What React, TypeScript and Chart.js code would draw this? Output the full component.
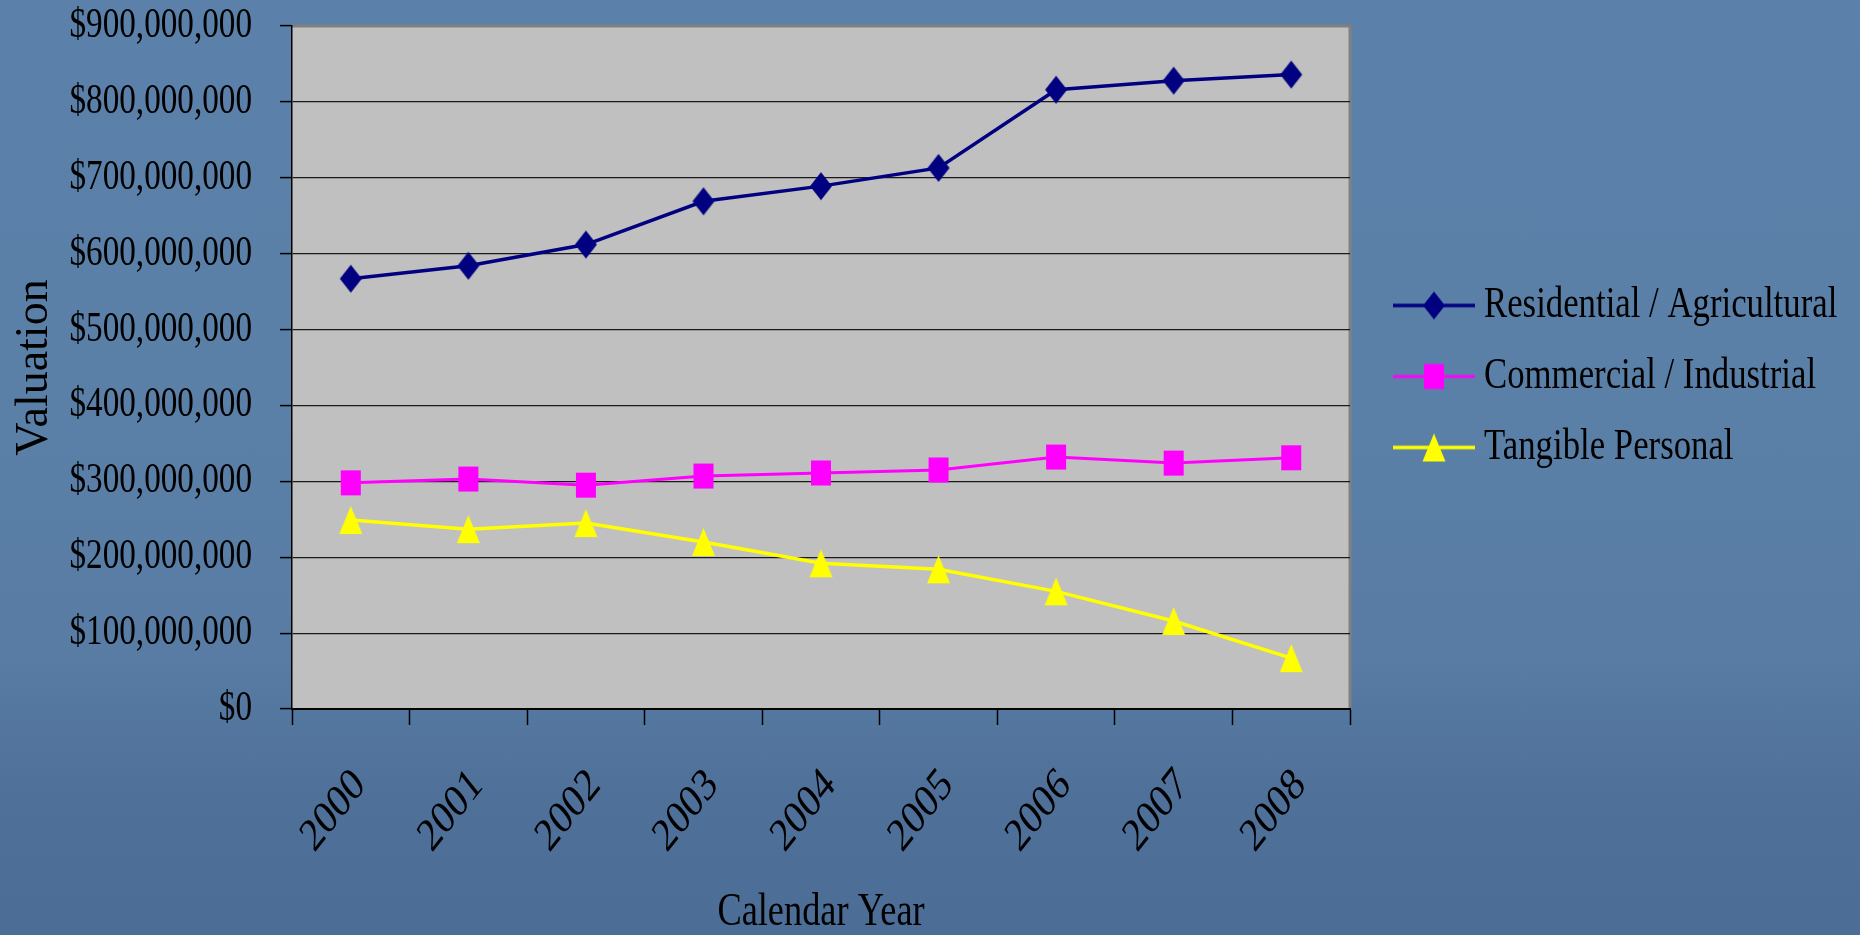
import React, { useEffect, useRef } from 'react';
import { Chart, registerables } from 'chart.js';

Chart.register(...registerables);

const years = ['2000', '2001', '2002', '2003', '2004', '2005', '2006', '2007', '2008'];
const residential = [567000000, 584000000, 612000000, 669000000, 689000000, 713000000, 816000000, 828000000, 836000000];
const commercial = [298000000, 303000000, 295000000, 307000000, 311000000, 315000000, 332000000, 324000000, 331000000];
const tangible = [249000000, 237000000, 245000000, 220000000, 192000000, 184000000, 155000000, 116000000, 67000000];
const seriesNames = ['Residential / Agricultural', 'Commercial / Industrial', 'Tangible Personal'];
const yMax = 900000000;
const yStep = 100000000;

const FONT = '"Liberation Serif", "Times New Roman", serif';
const SQUISH = 0.79;
const DIAG_SHIFT = 9;
const LEGEND_WIDTH = 510;

type Shape = 'diamond' | 'square' | 'triangle';

function drawShape(c: CanvasRenderingContext2D, shape: Shape, cx: number, cy: number, w: number, h: number, color: string) {
  c.fillStyle = color;
  c.beginPath();
  if (shape === 'diamond') {
    c.moveTo(cx, cy - h / 2);
    c.lineTo(cx + w / 2, cy);
    c.lineTo(cx, cy + h / 2);
    c.lineTo(cx - w / 2, cy);
  } else if (shape === 'square') {
    c.rect(cx - w / 2, cy - h / 2, w, h);
  } else {
    c.moveTo(cx, cy - h / 2);
    c.lineTo(cx + w / 2, cy + h / 2);
    c.lineTo(cx - w / 2, cy + h / 2);
  }
  c.closePath();
  c.fill();
}

const shapeSize: Record<Shape, [number, number]> = {
  diamond: [22, 28],
  square: [20, 25],
  triangle: [23, 28],
};

function makeMarker(shape: Shape, color: string): HTMLCanvasElement {
  const [w, h] = shapeSize[shape];
  const cv = document.createElement('canvas');
  cv.width = w + 2;
  cv.height = h + 2;
  const c = cv.getContext('2d')!;
  drawShape(c, shape, cv.width / 2, cv.height / 2, w, h, color);
  return cv;
}

function makeLegendIcon(shape: Shape, color: string, lw: number): HTMLCanvasElement {
  const cv = document.createElement('canvas');
  cv.width = 111;
  cv.height = 30;
  const c = cv.getContext('2d')!;
  c.strokeStyle = color;
  c.lineWidth = lw;
  c.beginPath();
  c.moveTo(29, 15);
  c.lineTo(111, 15);
  c.stroke();
  const [w, h] = shapeSize[shape];
  drawShape(c, shape, 70, 15, w, h, color);
  return cv;
}

function patchContext(ctx: CanvasRenderingContext2D) {
  const origFill = ctx.fillText.bind(ctx);
  const origMeasure = ctx.measureText.bind(ctx);
  (ctx as any).fillText = (text: string, x: number, y: number) => {
    const m = ctx.getTransform();
    const len = Math.hypot(m.a, m.b) || 1;
    const sinA = Math.abs(m.b) / len;
    if (sinA > 0.9) {
      origFill(text, x, y);
      return;
    }
    const shift = sinA > 0.3 ? DIAG_SHIFT : 0;
    const p = m.transformPoint(new DOMPoint(x, y));
    const n = new DOMMatrix()
      .translate(p.x + shift, p.y)
      .scale(SQUISH, 1)
      .translate(-p.x, -p.y)
      .multiply(m);
    ctx.setTransform(n);
    origFill(text, x, y);
    ctx.setTransform(m);
  };
  (ctx as any).measureText = (text: string) => {
    const r = origMeasure(text);
    return {
      width: r.width * SQUISH,
      actualBoundingBoxAscent: r.actualBoundingBoxAscent,
      actualBoundingBoxDescent: r.actualBoundingBoxDescent,
      actualBoundingBoxLeft: r.actualBoundingBoxLeft * SQUISH,
      actualBoundingBoxRight: r.actualBoundingBoxRight * SQUISH,
      fontBoundingBoxAscent: (r as any).fontBoundingBoxAscent,
      fontBoundingBoxDescent: (r as any).fontBoundingBoxDescent,
    };
  };
}

const plotBg = {
  id: 'plotBg',
  beforeLayout(chart: any) {
    const lg = chart.legend;
    if (lg && !lg.__wide) {
      const origFit = lg.fit.bind(lg);
      lg.fit = () => {
        origFit();
        lg.width = LEGEND_WIDTH;
      };
      lg.__wide = true;
    }
  },
  beforeDraw(chart: any) {
    const { ctx, chartArea: a } = chart;
    ctx.save();
    ctx.fillStyle = '#C0C0C0';
    ctx.fillRect(a.left, a.top, a.right - a.left, a.bottom - a.top);
    ctx.strokeStyle = '#808080';
    ctx.lineWidth = 3;
    ctx.beginPath();
    ctx.moveTo(a.left, a.top);
    ctx.lineTo(a.right, a.top);
    ctx.lineTo(a.right, a.bottom);
    ctx.stroke();
    ctx.restore();
  },
};

export default function App() {
  const ref = useRef<HTMLCanvasElement | null>(null);

  useEffect(() => {
    const canvas = ref.current;
    if (!canvas) return;
    const ctx = canvas.getContext('2d')!;
    patchContext(ctx);

    const colors = ['#000080', '#FF00FF', '#FFFF00'];
    const shapes: Shape[] = ['diamond', 'square', 'triangle'];
    const widths = [3.5, 3, 3.5];
    const values = [residential, commercial, tangible];
    const legendIcons = shapes.map((s, i) => makeLegendIcon(s, colors[i], widths[i]));

    const chart = new Chart(canvas, {
      type: 'line',
      data: {
        labels: years,
        datasets: values.map((v, i) => ({
          label: seriesNames[i],
          data: v,
          borderColor: colors[i],
          backgroundColor: colors[i],
          borderWidth: widths[i],
          pointStyle: makeMarker(shapes[i], colors[i]) as any,
          pointRadius: 10,
          tension: 0,
          fill: false,
        })),
      },
      options: {
        animation: false,
        responsive: false,
        devicePixelRatio: 1,
        layout: { padding: { top: 0, right: 0, bottom: 0, left: 0 } },
        plugins: {
          tooltip: { enabled: false },
          legend: {
            position: 'right',
            fullSize: false,
            title: { display: true, text: ' ', font: { size: 8, lineHeight: 2.25 }, padding: 0 },
            labels: {
              usePointStyle: true,
              pointStyleWidth: 85,
              padding: 27,
              color: '#000',
              font: { family: FONT, size: 44 },
              generateLabels: () =>
                seriesNames.map((name, i) => ({
                  text: name,
                  pointStyle: legendIcons[i] as any,
                  fillStyle: colors[i],
                  strokeStyle: colors[i],
                  lineWidth: 0,
                  datasetIndex: i,
                  hidden: false,
                  fontColor: '#000',
                })),
            },
          },
        },
        scales: {
          x: {
            offset: true,
            grid: {
              offset: true,
              drawOnChartArea: false,
              drawTicks: true,
              tickLength: 16,
              tickColor: '#000',
              tickWidth: 1.5,
            },
            border: { color: '#000', width: 2 },
            ticks: {
              color: '#000',
              font: { family: FONT, size: 47 },
              maxRotation: 45,
              minRotation: 45,
              padding: 33,
              autoSkip: false,
            },
            title: {
              display: true,
              text: 'Calendar Year',
              color: '#000',
              font: { family: FONT, size: 46, lineHeight: 0.94 },
              padding: { top: 0, bottom: 0 },
            },
            afterFit: (s: any) => {
              s.height = 226;
            },
          },
          y: {
            min: 0,
            max: yMax,
            grid: {
              color: (c: any) => (c.tick && c.tick.value === yMax ? '#808080' : '#1a1a1a'),
              lineWidth: 1.2,
              drawTicks: true,
              tickLength: 12,
              tickColor: '#000',
              tickWidth: 1.5,
            },
            border: { color: '#000', width: 1.5 },
            ticks: {
              stepSize: yStep,
              color: '#000',
              padding: 28,
              font: { family: FONT, size: 42 },
              callback: (v: any) => '$' + Number(v).toLocaleString('en-US'),
            },
            title: {
              display: true,
              text: 'Valuation',
              color: '#000',
              font: { family: FONT, size: 46 },
              padding: { top: 7, bottom: 0 },
            },
            afterFit: (s: any) => {
              s.width = 292;
              s.paddingTop = 26;
              s.paddingBottom = 26;
            },
          },
        },
      },
      plugins: [plotBg],
    });

    return () => chart.destroy();
  }, []);

  return (
    <div
      style={{
        position: 'fixed',
        left: 0,
        top: 0,
        width: 1860,
        height: 935,
        overflow: 'hidden',
        background:
          'linear-gradient(to bottom, #5b80a9 0%, #5b80a8 45%, #587ca4 70%, #4f7099 85%, #4b6d96 100%)',
      }}
    >
      <canvas ref={ref} width={1860} height={935} style={{ display: 'block', width: 1860, height: 935 }} />
    </div>
  );
}
